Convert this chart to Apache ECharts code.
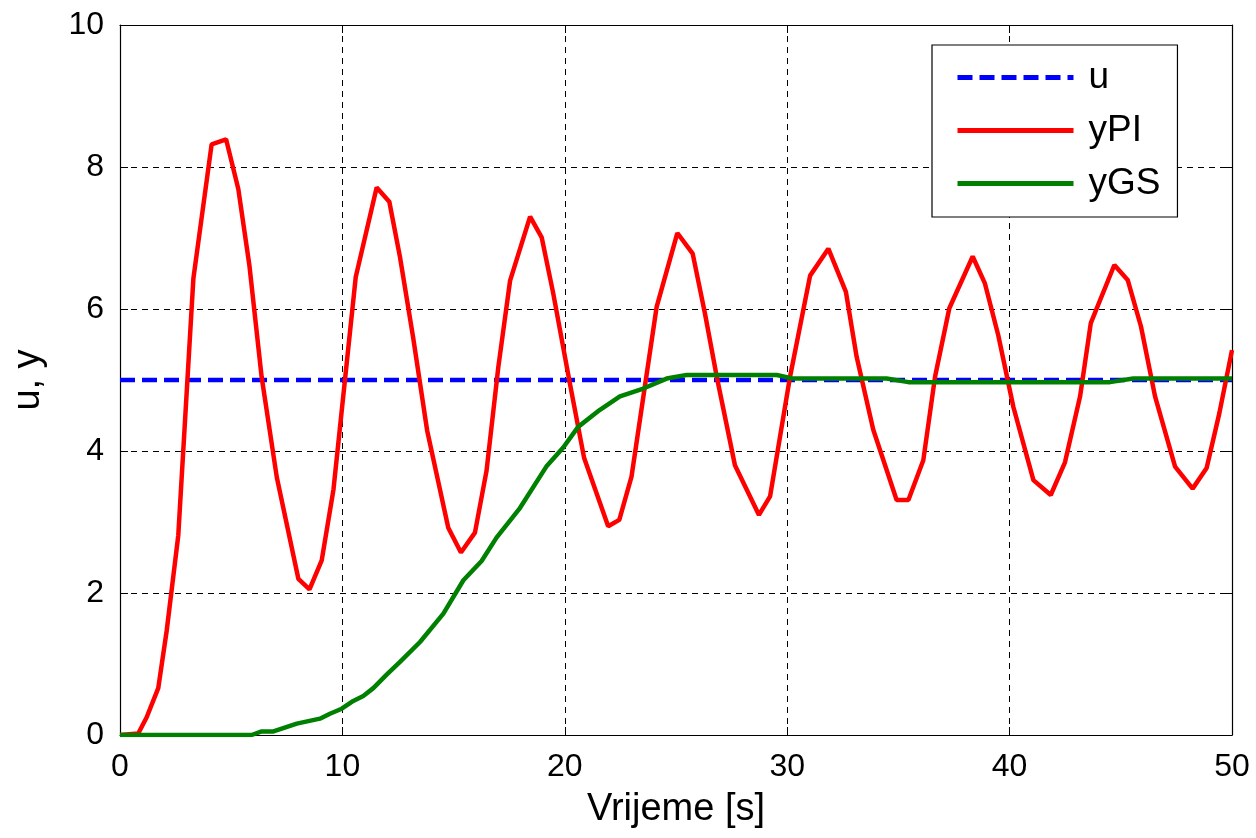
<!DOCTYPE html>
<html>
<head>
<meta charset="utf-8">
<script src="https://cdn.jsdelivr.net/npm/echarts@6/dist/echarts.min.js"></script>
<style>
html,body{margin:0;padding:0;background:#fff;}
#chart{width:1256px;height:838px;}
</style>
</head>
<body>
<div id="chart"></div>
<script>
// ---- data ----
var seriesNames = ['u', 'yPI', 'yGS'];
var xTicks = [0, 10, 20, 30, 40, 50];
var yTicks = [0, 2, 4, 6, 8, 10];

var uData = [[0, 5], [50, 5]];

var yPIData = [
  [0, 0], [0.82, 0.02], [1.2, 0.25], [1.72, 0.66], [2.1, 1.47], [2.62, 2.81],
  [3.3, 6.43], [4.12, 8.32], [4.77, 8.39], [5.32, 7.69], [5.82, 6.61], [6.37, 5.04],
  [7.05, 3.63], [8.02, 2.2], [8.52, 2.05], [9.07, 2.46], [9.6, 3.46], [10.6, 6.45],
  [11.54, 7.71], [12.11, 7.51], [12.59, 6.73], [13.18, 5.6], [13.81, 4.29], [14.76, 2.92],
  [15.33, 2.57], [15.96, 2.85], [16.48, 3.72], [17.01, 5.18], [17.54, 6.4], [18.44, 7.3],
  [18.96, 7.01], [19.48, 6.22], [20.23, 4.95], [20.87, 3.9], [21.95, 2.94], [22.45, 3.03],
  [23.0, 3.64], [24.13, 6.03], [25.06, 7.07], [25.75, 6.78], [26.3, 5.94], [26.83, 5.05],
  [27.65, 3.8], [28.73, 3.1], [29.23, 3.36], [30.13, 5.05], [31.03, 6.47], [31.85, 6.85],
  [32.64, 6.24], [33.12, 5.33], [33.87, 4.3], [34.92, 3.31], [35.45, 3.31], [36.12, 3.87],
  [36.65, 5.05], [37.29, 6.01], [38.34, 6.74], [38.89, 6.36], [39.49, 5.63], [40.17, 4.62],
  [41.07, 3.59], [41.85, 3.38], [42.49, 3.84], [43.17, 4.77], [43.65, 5.8], [44.71, 6.62],
  [45.31, 6.41], [45.91, 5.75], [46.54, 4.77], [47.44, 3.78], [48.23, 3.47], [48.86, 3.76],
  [49.43, 4.53], [50, 5.42]
];

var yGSData = [
  [0, 0], [5.92, 0], [6.37, 0.05], [6.9, 0.05], [7.95, 0.16], [8.99, 0.23], [9.44, 0.3],
  [9.97, 0.37], [10.49, 0.48], [10.94, 0.55], [11.39, 0.66], [11.99, 0.85], [12.59, 1.03],
  [13.49, 1.31], [14.54, 1.71], [15.44, 2.18], [16.26, 2.45], [16.93, 2.78], [17.99, 3.2],
  [19.19, 3.79], [19.93, 4.05], [20.6, 4.34], [21.58, 4.58], [22.48, 4.77], [23.53, 4.88],
  [24.58, 5.02], [25.48, 5.07], [29.53, 5.07], [30.28, 5.02], [34.47, 5.02], [35.45, 4.97],
  [44.51, 4.97], [45.56, 5.02], [50, 5.02]
];

// ---- chart ----
var FONT = "'Liberation Sans', Arial, Helvetica, sans-serif";
var chart = echarts.init(document.getElementById('chart'), null, {renderer: 'canvas'});

var gridLine = {show: true, lineStyle: {color: '#000', width: 1, type: [6, 5]}};
var axisLine = {show: true, onZero: false, lineStyle: {color: '#000', width: 1.2}};
var tick = {show: true, inside: true, length: 8, lineStyle: {color: '#000', width: 1}};

var option = {
  animation: false,
  backgroundColor: '#fff',
  textStyle: {fontFamily: FONT},
  grid: {left: 120, right: 24, top: 25, bottom: 103, containLabel: false},
  legend: {
    show: true,
    data: seriesNames,
    orient: 'vertical',
    left: 932,
    top: 45,
    padding: [14, 17, 15, 23],
    itemGap: 16,
    itemWidth: 116,
    itemHeight: 16,
    backgroundColor: '#fff',
    borderColor: '#000',
    borderWidth: 1.2,
    selectedMode: false,
    itemStyle: {opacity: 0, borderWidth: 0},
    lineStyle: {width: 5},
    textStyle: {fontFamily: FONT, fontSize: 37, color: '#000', lineHeight: 37, padding: [0, 0, 0, 10]}
  },
  xAxis: [{
    type: 'value', min: xTicks[0], max: xTicks[xTicks.length - 1], interval: 10,
    position: 'bottom',
    name: 'Vrijeme [s]', nameLocation: 'middle', nameGap: 56,
    nameTextStyle: {fontFamily: FONT, fontSize: 38, color: '#000'},
    axisLine: axisLine, axisTick: tick,
    axisLabel: {margin: 16, fontFamily: FONT, fontSize: 32, color: '#000'},
    splitLine: gridLine
  }, {
    type: 'value', min: xTicks[0], max: xTicks[xTicks.length - 1], interval: 10,
    position: 'top',
    axisLine: axisLine, axisTick: tick, axisLabel: {show: false}, splitLine: {show: false}
  }],
  yAxis: [{
    type: 'value', min: yTicks[0], max: yTicks[yTicks.length - 1], interval: 2,
    position: 'left',
    name: 'u, y', nameLocation: 'middle', nameGap: 72, nameRotate: 90,
    nameTextStyle: {fontFamily: FONT, fontSize: 38, color: '#000'},
    axisLine: axisLine, axisTick: tick,
    axisLabel: {margin: 16, fontFamily: FONT, fontSize: 32, color: '#000'},
    splitLine: gridLine
  }, {
    type: 'value', min: yTicks[0], max: yTicks[yTicks.length - 1], interval: 2,
    position: 'right',
    axisLine: axisLine, axisTick: tick, axisLabel: {show: false}, splitLine: {show: false}
  }],
  series: [{
    name: seriesNames[0], type: 'line', data: uData, symbol: 'none', z: 3,
    lineStyle: {color: '#0000ff', width: 4.5, type: [15, 7]},
    itemStyle: {color: '#0000ff'}
  }, {
    name: seriesNames[1], type: 'line', data: yPIData, symbol: 'none', z: 4,
    lineStyle: {color: '#ff0000', width: 4.5},
    itemStyle: {color: '#ff0000'}
  }, {
    name: seriesNames[2], type: 'line', data: yGSData, symbol: 'none', z: 5,
    lineStyle: {color: '#008000', width: 4.5},
    itemStyle: {color: '#008000'}
  }]
};
chart.setOption(option);
</script>
</body>
</html>
